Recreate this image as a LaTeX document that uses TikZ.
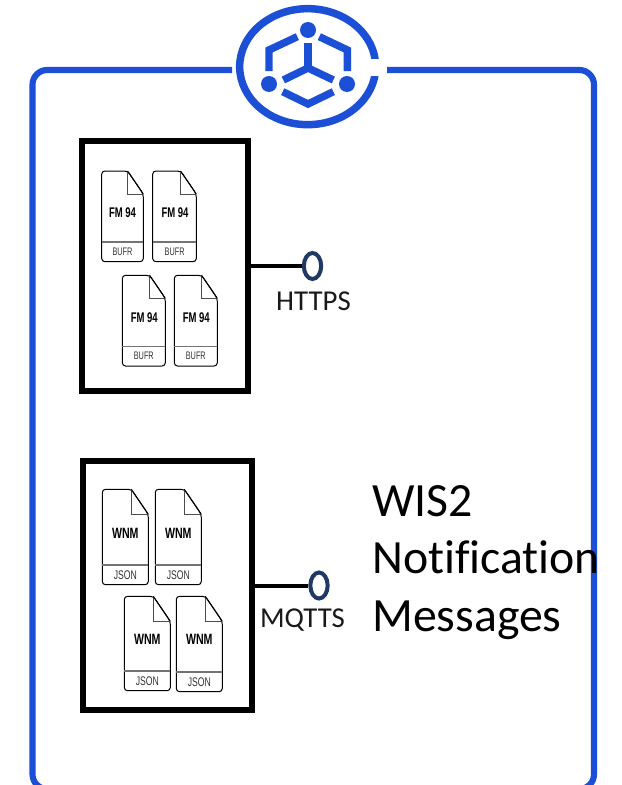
\documentclass[tikz,border=0pt]{standalone}
\usepackage{fontspec}
\setmainfont[Ligatures=NoCommon]{Carlito}
\newfontfamily\docfont{Liberation Sans}
\usetikzlibrary{shapes.geometric}
\definecolor{wisblue}{HTML}{1A4FD6}
\definecolor{portblue}{HTML}{1F3864}
\tikzset{
  x=0.75pt, y=-0.75pt,
  frameline/.style={draw=wisblue, line width=4.6pt, rounded corners=11pt},
  logoline/.style={draw=wisblue, line width=5.6pt},
  logodot/.style={fill=wisblue},
  boxnode/.style={draw=black, line width=4.5pt, minimum width=124.5pt, minimum height=187.5pt, fill=white},
  portnode/.style={ellipse, draw=portblue, line width=3pt, fill=white, minimum width=13pt, minimum height=19.5pt, inner sep=0pt},
  wire/.style={draw=black, line width=3pt},
  label/.style={inner sep=0pt, font=\fontsize{21.6}{25}\selectfont, text=black!90},
  docline/.style={draw=black, line width=0.75pt, rounded corners=2.4pt, fill=white},
  foldline/.style={draw=black!70, line width=0.75pt},
  divline/.style={draw=black!55, line width=1.1pt},
  fmtext/.style={inner sep=0pt, xscale=0.68, font=\docfont\bfseries\fontsize{10.5}{12}\selectfont},
  buftext/.style={inner sep=0pt, xscale=0.67, text=black!80, font=\docfont\fontsize{8.2}{10}\selectfont},
  wnmtext/.style={inner sep=0pt, xscale=0.71, font=\docfont\bfseries\fontsize{11.2}{13}\selectfont},
  jsontext/.style={inner sep=0pt, xscale=0.69, text=black!80, font=\docfont\fontsize{9.4}{11}\selectfont},
}
% name, x, y, width, height, divider from bottom, fold width, fold height, main text+style, sub text+style
\newcommand{\docicon}[9]{%
  \begin{scope}[shift={(#2,#3)}]
    \path[docline] (0,0) -- (#4-#6,0) -- (#4,#7) -- (#4,#5) -- (0,#5) -- cycle;
    \draw[foldline] (#4-#6,0) -- (#4-#6,#7) -- (#4,#7);
    \draw[divline] (0,#5-19.5) -- (#4,#5-19.5);
    \draw[line width=0.75pt, line join=round] (#4-#6,0) -- (#4,#7);
    #8
    #9
  \end{scope}}
\begin{document}
\begin{tikzpicture}
\clip (0,0) rectangle (621,785);
\fill[white] (0,0) rectangle (621,785);
% outer frame
\draw[frameline] (232,70) -- (32.5,70) -- (32.5,789) -- (594,789) -- (594,70) -- (383,70);
% logo
\begin{scope}[shift={(220,0)}, x=0.25pt, y=-0.25pt]
  \draw[logoline, fill=white] (263,200) ellipse [x radius=204, y radius=174];
  \fill[white] (440,178) rectangle (500,228);
  \fill[logodot] (264,90) circle [radius=24];
  \fill[logodot] (147,252) circle [radius=24];
  \fill[logodot] (381,252) circle [radius=24];
  \draw[logoline, line width=6pt] (264,130) -- (264,208);
  \draw[logoline] (190,240) -- (264,204) -- (340,240);
  \draw[logoline, line join=miter] (232,110) -- (147,150) -- (147,213);
  \draw[logoline, line join=miter] (298,110) -- (382,150) -- (382,213);
  \draw[logoline, line join=miter] (188,275) -- (264,312) -- (340,275);
\end{scope}
% boxes
\node[boxnode] (httpsbox) at (165,266) {};
\node[boxnode, minimum height=186.75pt, minimum width=126.75pt] (mqttsbox) at (167.5,585.5) {};
% ports
\node[portnode] (httpsport) at (312.5,266) {};
\node[portnode] (mqttsport) at (319,585.5) {};
\draw[wire] (httpsbox.east) -- (httpsport.west);
\draw[wire] (mqttsbox.east) -- (mqttsport.west);
% labels
\node[label] (httpslabel) at (313.5,301.5) {HTTPS};
\node[label] (mqttslabel) at (302.5,620.5) {MQTTS};
\node[inner sep=0pt, anchor=north west, align=left, text=black, font=\fontsize{35.8}{43.2}\selectfont] (title) at (372,485) {WIS2\\Notification\\Messages};
% FM 94 documents
\docicon{a}{101.7}{171}{41.6}{90.7}{15.7}{23}{\node[fmtext] (a1) at (20.8,42) {FM 94};}{\node[buftext] (a2) at (20.8,80.5) {BUFR};}
\docicon{b}{152.7}{171}{43.6}{90.7}{15.7}{23}{\node[fmtext] (b1) at (22.3,42) {FM 94};}{\node[buftext] (b2) at (22,80.5) {BUFR};}
\docicon{c}{122.3}{275.3}{43}{90.7}{15.7}{23}{\node[fmtext] (c1) at (22,42) {FM 94};}{\node[buftext] (c2) at (21.5,80.5) {BUFR};}
\docicon{d}{174.3}{275.3}{43}{90.7}{15.7}{23}{\node[fmtext] (d1) at (22,42) {FM 94};}{\node[buftext] (d2) at (21.5,80.5) {BUFR};}
% WNM documents
\docicon{e}{102.3}{489.3}{46}{95.4}{17}{25}{\node[wnmtext] (e1) at (23,44) {WNM};}{\node[jsontext] (e2) at (23,86) {JSON};}
\docicon{f}{155.3}{489.3}{46}{95.4}{17}{25}{\node[wnmtext] (f1) at (23,44) {WNM};}{\node[jsontext] (f2) at (23,86) {JSON};}
\docicon{g}{124.3}{596.3}{46}{94.4}{17}{25}{\node[wnmtext] (g1) at (23,43) {WNM};}{\node[jsontext] (g2) at (23,85) {JSON};}
\docicon{h}{176.3}{596.3}{46}{95.4}{17}{25}{\node[wnmtext] (h1) at (23,43) {WNM};}{\node[jsontext] (h2) at (23,86) {JSON};}
\end{tikzpicture}
\end{document}
